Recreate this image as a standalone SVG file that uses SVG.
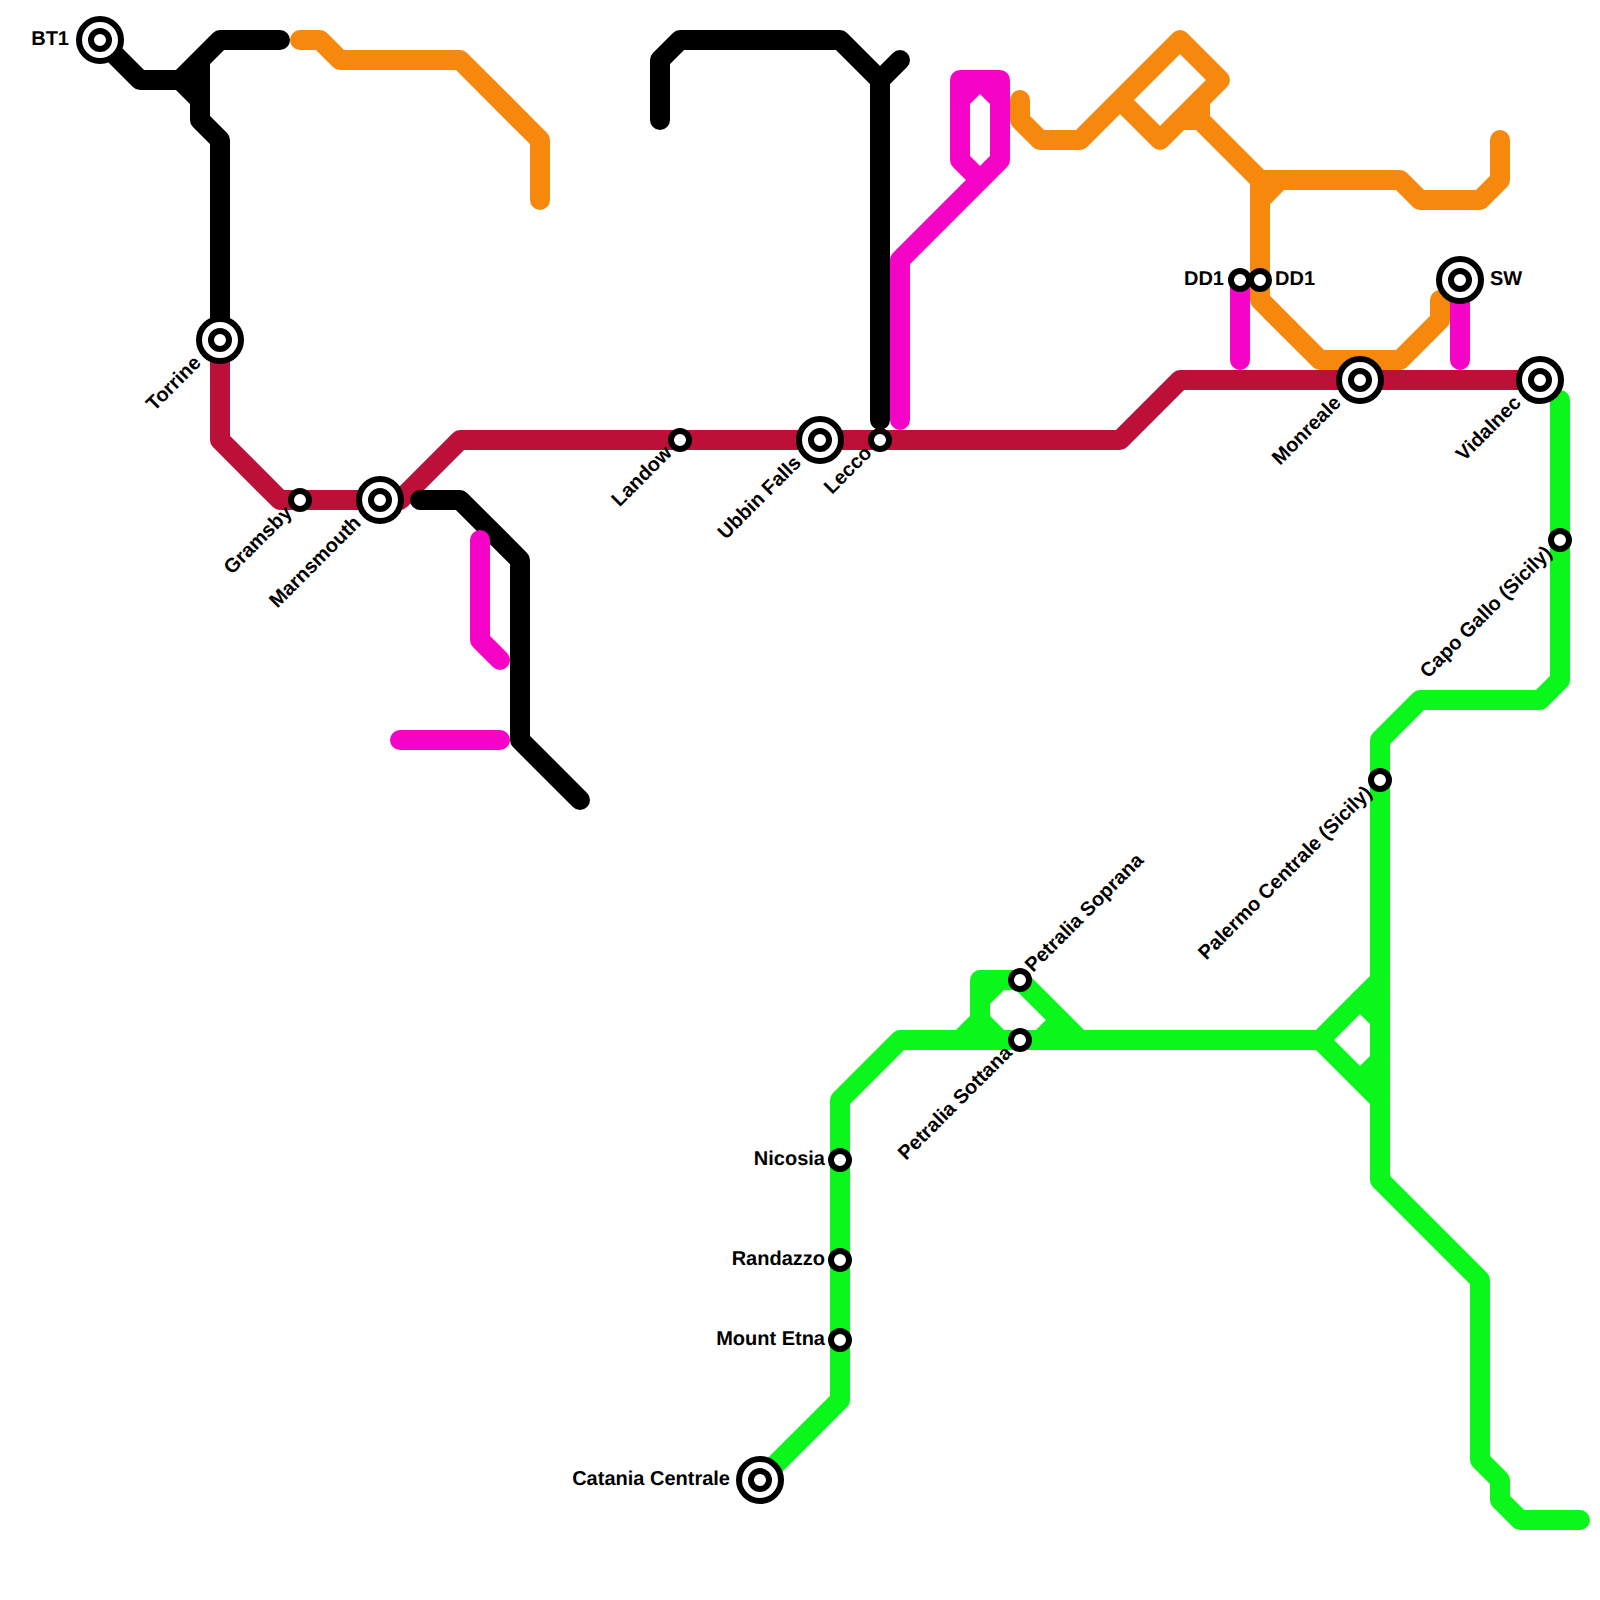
<svg xmlns="http://www.w3.org/2000/svg" width="1600" height="1600" viewBox="0 0 1600 1600">
<style>
.l{fill:none;stroke-width:20;stroke-linecap:round;stroke-linejoin:round}
.k{stroke:#000}.o{stroke:#f5880d}.c{stroke:#bd1038}.m{stroke:#f504c8}.g{stroke:#0bf71b}
.s{fill:#fff;stroke:#000;stroke-width:6}
.t{font-family:"Liberation Sans",Arial,sans-serif;font-weight:700;font-size:20px;fill:#000;text-rendering:geometricPrecision}
.e{text-anchor:end}
</style>
<rect width="1600" height="1600" fill="#fff"/>
<g id="connectors">
<g id="line-green" class="l g">
<path d="M1560 400V680L1540 700H1420L1380 740V1180L1480 1280V1460L1500 1480V1500L1520 1520H1580"/>
<path d="M760 1480L840 1400V1100L900 1040H1320L1380 980"/>
<path d="M1320 1040L1380 1100M1360 1000L1380 1020M1360 1080L1380 1060"/>
<path d="M960 1040L980 1020M980 1040V980H1020L1080 1040M980 1000L1000 980M980 1020L1000 1040M1040 1040L1060 1020"/>
</g>
<g id="line-orange" class="l o">
<path d="M300 40H320L340 60H460L540 140V200"/>
<path d="M1020 100V120L1040 140H1080L1180 40L1220 80L1160 140L1120 100"/>
<path d="M1180 120H1200V100M1200 120L1260 180H1400L1420 200H1480L1500 180V140"/>
<path d="M1260 180V300L1320 360H1400L1440 320V300M1260 200L1280 180"/>
</g>
<g id="line-crimson" class="l c">
<path d="M220 340V440L280 500H400L460 440H1120L1180 380H1540"/>
</g>
<g id="line-black" class="l k">
<path d="M100 40L140 80H180L220 40H280M180 80L200 100M200 60V120L220 140V340"/>
<path d="M660 120V60L680 40H840L880 80L900 60M880 80V420"/>
<path d="M420 500H460L520 560V740L580 800"/>
</g>
<g id="line-magenta" class="l m">
<path d="M900 420V260L980 180L1000 160V80H960V160L980 180M960 100L980 80L1000 100"/>
<path d="M480 540V640L500 660M400 740H500M1240 280V360M1460 280V360"/>
</g>
</g>
<defs>
<g id="big"><circle r="21" class="s"/><circle r="9" class="s"/></g>
<circle id="small" r="9" class="s"/>
</defs>
<g id="n-bt1"><use href="#big" x="100" y="40"/><text class="t e" x="69" y="45">BT1</text></g>
<g id="n-torrine"><use href="#big" x="220" y="340"/><text class="t e" transform="translate(202,364) rotate(-45)">Torrine</text></g>
<g id="n-gramsby"><use href="#small" x="300" y="500"/><text class="t e" transform="translate(293,514) rotate(-45)">Gramsby</text></g>
<g id="n-marnsmouth"><use href="#big" x="380" y="500"/><text class="t e" transform="translate(362,524) rotate(-45)">Marnsmouth</text></g>
<g id="n-landow"><use href="#small" x="680" y="440"/><text class="t e" transform="translate(673,454) rotate(-45)">Landow</text></g>
<g id="n-ubbin"><use href="#big" x="820" y="440"/><text class="t e" transform="translate(802,464) rotate(-45)">Ubbin Falls</text></g>
<g id="n-lecco"><use href="#small" x="880" y="440"/><text class="t e" transform="translate(873,454) rotate(-45)">Lecco</text></g>
<g id="n-dd1a"><use href="#small" x="1240" y="280"/><text class="t e" x="1224" y="285">DD1</text></g>
<g id="n-dd1b"><use href="#small" x="1260" y="280"/><text class="t" x="1275" y="285">DD1</text></g>
<g id="n-sw"><use href="#big" x="1460" y="280"/><text class="t" x="1490" y="285">SW</text></g>
<g id="n-monreale"><use href="#big" x="1360" y="380"/><text class="t e" transform="translate(1342,404) rotate(-45)">Monreale</text></g>
<g id="n-vidalnec"><use href="#big" x="1540" y="380"/><text class="t e" transform="translate(1522,404) rotate(-45)">Vidalnec</text></g>
<g id="n-capo"><use href="#small" x="1560" y="540"/><text class="t e" transform="translate(1553,554) rotate(-45)">Capo Gallo (Sicily)</text></g>
<g id="n-palermo"><use href="#small" x="1380" y="780"/><text class="t e" transform="translate(1373,794) rotate(-45)">Palermo Centrale (Sicily)</text></g>
<g id="n-soprana"><use href="#small" x="1020" y="980"/><text class="t" transform="translate(1033,973) rotate(-45)">Petralia Soprana</text></g>
<g id="n-sottana"><use href="#small" x="1020" y="1040"/><text class="t e" transform="translate(1013,1054) rotate(-45)">Petralia Sottana</text></g>
<g id="n-nicosia"><use href="#small" x="840" y="1160"/><text class="t e" x="825" y="1165">Nicosia</text></g>
<g id="n-randazzo"><use href="#small" x="840" y="1260"/><text class="t e" x="825" y="1265">Randazzo</text></g>
<g id="n-etna"><use href="#small" x="840" y="1340"/><text class="t e" x="825" y="1345">Mount Etna</text></g>
<g id="n-catania"><use href="#big" x="760" y="1480"/><text class="t e" x="730" y="1485">Catania Centrale</text></g>
</svg>
